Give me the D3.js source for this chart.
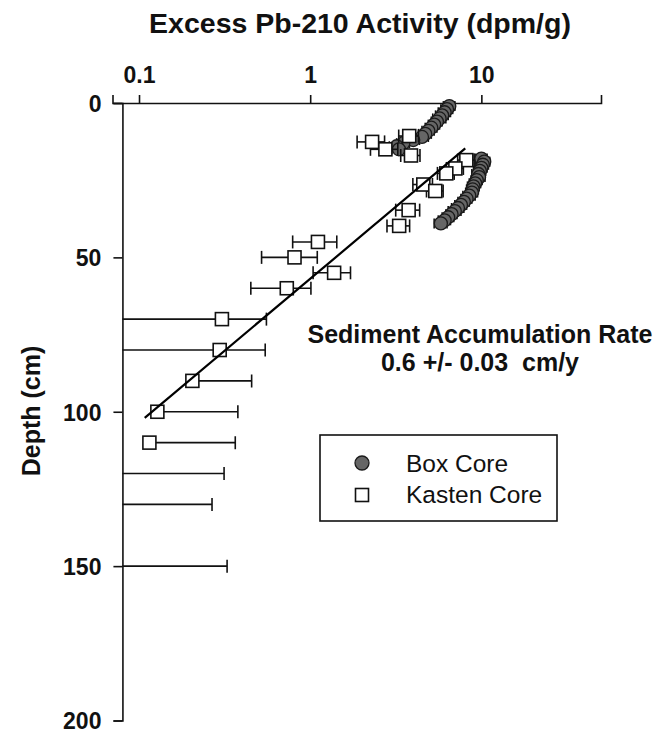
<!DOCTYPE html>
<html>
<head>
<meta charset="utf-8">
<script src="https://cdn.jsdelivr.net/npm/d3@7"></script>
<style>
  body { margin: 0; background: #fff; }
  text { font-family: "Liberation Sans", Arial, sans-serif; fill: #111; }
</style>
</head>
<body>
<div class="chart"></div>
<script>
var width = 665,
    height = 734;

// Box core (filled circles): depth (cm), excess Pb-210 (dpm/g), error
var boxDepth = [1, 2, 3, 4, 5, 6, 7, 8, 9, 10, 11, 12, 13, 14, 15,
                18, 19, 20, 21, 22, 23, 24, 25, 26, 27, 28, 29, 30, 31, 32, 33, 34, 35, 36, 37, 38, 39];
var boxValue = [6.5, 6.3, 6.1, 5.9, 5.7, 5.5, 5.3, 5.1, 4.9, 4.7, 4.5, 4.0, 3.5, 3.2, 3.3,
                10.0, 10.4, 10.2, 10.0, 9.8, 9.6, 9.7, 9.4, 9.2, 9.0, 8.9, 8.8, 8.5, 8.2, 7.9, 7.6, 7.3, 7.0, 6.7, 6.4, 6.1, 5.8];
var boxErr = [0.5, 0.5, 0.5, 0.5, 0.5, 0.4, 0.4, 0.4, 0.4, 0.4, 0.4, 0.35, 0.3, 0.3, 0.3,
              0.8, 0.8, 0.8, 0.8, 0.8, 0.8, 0.8, 0.7, 0.7, 0.7, 0.7, 0.7, 0.7, 0.6, 0.6, 0.6, 0.6, 0.6, 0.5, 0.5, 0.5, 0.5];

// Kasten core (open squares)
var kastenDepth = [10.7, 12.6, 15, 17, 18.5, 21.2, 22.8, 26.4, 28.5, 34.7, 39.8,
                   45, 50, 55, 60, 70, 80, 90, 100, 110, 120, 130, 150];
var kastenValue = [3.79, 2.30, 2.75, 3.88, 8.17, 7.05, 6.24, 4.58, 5.38, 3.76, 3.31,
                   1.11, 0.81, 1.38, 0.73, 0.305, 0.296, 0.205, 0.128, 0.115, 0.064, 0.017, 0.06];
var kastenErr = [0.5, 0.42, 0.5, 0.5, 0.9, 0.8, 0.7, 0.6, 0.6, 0.6, 0.5,
                 0.32, 0.29, 0.34, 0.28, 0.25, 0.25, 0.25, 0.25, 0.25, 0.25, 0.25, 0.267];

// fitted exponential profile (end points of the regression line)
var fitDepth = [14.7, 102];
var fitValue = [8.05, 0.108];

var xTicks = [0.1, 1, 10];
var yTicks = [0, 50, 100, 150, 200];
var yAxisAt = 0.08;

var x = d3.scaleLog().domain([0.07, 50]).range([112.5, 601]);
var y = d3.scaleLinear().domain([0, 200]).range([103, 720.5]);

var svg = d3.select(".chart").append("svg")
    .attr("width", width)
    .attr("height", height);

svg.append("defs").append("clipPath")
    .attr("id", "plot")
    .append("rect")
    .attr("x", x(yAxisAt))
    .attr("y", 0)
    .attr("width", width - x(yAxisAt))
    .attr("height", height);

// axes
var xAxis = svg.append("g")
    .attr("transform", "translate(0," + y(0) + ")")
    .call(d3.axisTop(x).tickValues(xTicks).tickFormat(d3.format("")).tickSizeOuter(0).tickSize(8).tickPadding(12));

var yAxis = svg.append("g")
    .attr("transform", "translate(" + x(yAxisAt) + ",0)")
    .call(d3.axisLeft(y).tickValues(yTicks).tickSizeOuter(0).tickSize(9).tickPadding(12));

svg.selectAll(".domain, .tick line")
    .attr("stroke", "#111")
    .attr("stroke-width", 1.6);
svg.selectAll(".tick text")
    .style("font-size", "23px")
    .style("font-weight", "bold")
    .style("font-family", "Liberation Sans, Arial, sans-serif")
    .attr("fill", "#111");
yAxis.selectAll(".tick text").attr("dy", "0.36em");

svg.append("text")
    .attr("x", 360)
    .attr("y", 33)
    .attr("text-anchor", "middle")
    .style("font-size", "28.5px")
    .style("font-weight", "bold")
    .text("Excess Pb-210 Activity (dpm/g)");

svg.append("text")
    .attr("transform", "translate(40,411) rotate(-90)")
    .attr("text-anchor", "middle")
    .style("font-size", "25px")
    .style("font-weight", "bold")
    .text("Depth (cm)");

var plot = svg.append("g").attr("clip-path", "url(#plot)");

// error bars: lower half is dropped where value - err is not positive (log axis)
function errorBars(g, depth, value, err, capH) {
    depth.forEach(function(d, i) {
        var v = value[i], e = err[i], yy = y(d);
        var lo = v - e > 0 ? v - e : v;
        g.append("line")
            .attr("x1", x(lo)).attr("x2", x(v + e))
            .attr("y1", yy).attr("y2", yy);
        g.append("line")
            .attr("x1", x(v + e)).attr("x2", x(v + e))
            .attr("y1", yy - capH / 2).attr("y2", yy + capH / 2);
        if (v - e > 0) {
            g.append("line")
                .attr("x1", x(v - e)).attr("x2", x(v - e))
                .attr("y1", yy - capH / 2).attr("y2", yy + capH / 2);
        }
    });
}

var boxBars = plot.append("g").attr("stroke", "#111").attr("stroke-width", 1.6);
errorBars(boxBars, boxDepth, boxValue, boxErr, 10);

plot.append("g").selectAll("circle")
    .data(boxDepth)
    .enter().append("circle")
    .attr("cx", function(d, i) { return x(boxValue[i]); })
    .attr("cy", function(d) { return y(d); })
    .attr("r", 6.5)
    .attr("fill", "#666")
    .attr("stroke", "#1a1a1a")
    .attr("stroke-width", 1.3);

var kastenBars = plot.append("g").attr("stroke", "#111").attr("stroke-width", 1.6);
errorBars(kastenBars, kastenDepth, kastenValue, kastenErr, 13);

var sq = 13;
plot.append("g").selectAll("rect")
    .data(kastenDepth)
    .enter().append("rect")
    .attr("x", function(d, i) { return x(kastenValue[i]) - sq / 2; })
    .attr("y", function(d) { return y(d) - sq / 2; })
    .attr("width", sq)
    .attr("height", sq)
    .attr("fill", "#fff")
    .attr("stroke", "#111")
    .attr("stroke-width", 1.6);

var line = d3.line()
    .x(function(d, i) { return x(fitValue[i]); })
    .y(function(d) { return y(d); });

plot.append("path")
    .datum(fitDepth)
    .attr("d", line)
    .attr("fill", "none")
    .attr("stroke", "#000")
    .attr("stroke-width", 2.2);

// annotation
svg.append("text")
    .attr("x", 480)
    .attr("y", 343)
    .attr("text-anchor", "middle")
    .style("font-size", "25px")
    .style("font-weight", "bold")
    .text("Sediment Accumulation Rate");
svg.append("text")
    .attr("x", 480)
    .attr("y", 371)
    .attr("text-anchor", "middle")
    .style("font-size", "25px")
    .style("font-weight", "bold")
    .text("0.6 +/- 0.03\u00a0\u00a0cm/y");

// legend
var legend = svg.append("g");
legend.append("rect")
    .attr("x", 320).attr("y", 435)
    .attr("width", 237).attr("height", 86)
    .attr("fill", "#fff")
    .attr("stroke", "#111")
    .attr("stroke-width", 1.6);
legend.append("circle")
    .attr("cx", 362).attr("cy", 463).attr("r", 7)
    .attr("fill", "#666").attr("stroke", "#1a1a1a").attr("stroke-width", 1.3);
legend.append("rect")
    .attr("x", 362 - sq / 2).attr("y", 495 - sq / 2)
    .attr("width", sq).attr("height", sq)
    .attr("fill", "#fff").attr("stroke", "#111").attr("stroke-width", 1.6);
legend.append("text")
    .attr("x", 406).attr("y", 472)
    .style("font-size", "24.5px")
    .text("Box Core");
legend.append("text")
    .attr("x", 406).attr("y", 503)
    .style("font-size", "24.5px")
    .text("Kasten Core");
</script>
</body>
</html>
